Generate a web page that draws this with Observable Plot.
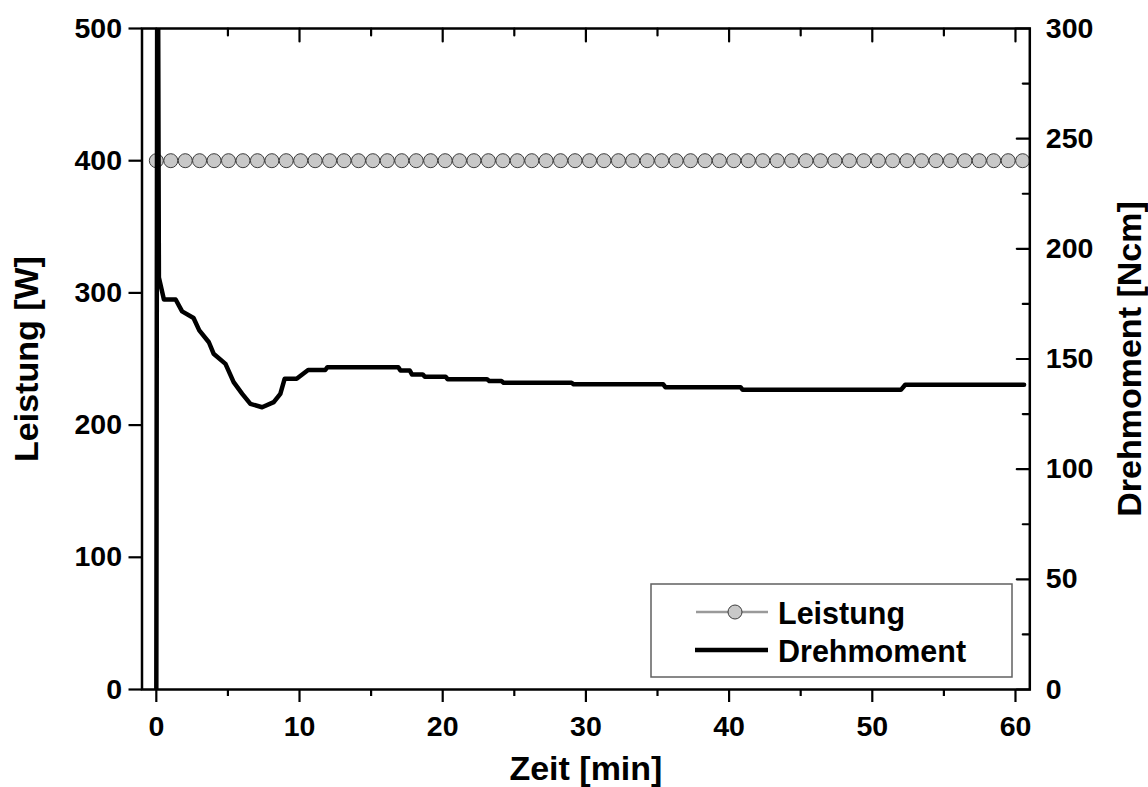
<!DOCTYPE html>
<html>
<head>
<meta charset="utf-8">
<script src="https://cdn.jsdelivr.net/npm/d3@7"></script>
<script src="https://cdn.jsdelivr.net/npm/@observablehq/plot@0.6"></script>
<style>
  html, body { margin: 0; padding: 0; background: #fff; }
  #wrap { position: relative; width: 1148px; height: 787px; }
  #legend { position: absolute; left: 0; top: 0; pointer-events: none; }
  text { font-family: "Liberation Sans", Arial, sans-serif; }
</style>
</head>
<body>
<div id="wrap"></div>
<script>
// Leistung (W), one reading about every minute
const leistungTime = [0, 1.01, 2.02, 3.02, 4.03, 5.04, 6.05, 7.06, 8.07, 9.07,
  10.08, 11.09, 12.10, 13.11, 14.12, 15.12, 16.13, 17.14, 18.15, 19.16,
  20.17, 21.17, 22.18, 23.19, 24.20, 25.21, 26.22, 27.22, 28.23, 29.24,
  30.25, 31.26, 32.27, 33.27, 34.28, 35.29, 36.30, 37.31, 38.32, 39.32,
  40.33, 41.34, 42.35, 43.36, 44.37, 45.37, 46.38, 47.39, 48.40, 49.41,
  50.42, 51.42, 52.43, 53.44, 54.45, 55.46, 56.47, 57.47, 58.48, 59.49, 60.50];
const leistungW = [400, 400, 400, 400, 400, 400, 400, 400, 400, 400,
  400, 400, 400, 400, 400, 400, 400, 400, 400, 400,
  400, 400, 400, 400, 400, 400, 400, 400, 400, 400,
  400, 400, 400, 400, 400, 400, 400, 400, 400, 400,
  400, 400, 400, 400, 400, 400, 400, 400, 400, 400,
  400, 400, 400, 400, 400, 400, 400, 400, 400, 400, 400];

// Drehmoment (Ncm)
const drehTime = [0, 0.08, 0.18, 0.53, 1.35, 1.8, 2.6, 3.0, 3.67, 4.0, 4.83, 5.4,
  6.0, 6.57, 7.39, 8.2, 8.66, 8.96, 9.8, 10.6, 11.8, 11.95, 16.9, 17.05,
  17.7, 17.85, 18.6, 18.75, 20.2, 20.35, 23.1, 23.25, 24.1, 24.25,
  29.0, 29.15, 35.4, 35.55, 40.8, 40.95, 52.0, 52.3, 60.6];
const drehNcm = [0, 420, 187, 177, 177, 171.6, 168.6, 163, 157.6, 152.4, 147.8, 139.5,
  134.2, 129.6, 128.1, 130.4, 134.2, 141, 141, 145, 145, 146.3, 146.3, 144.8,
  144.8, 143, 143, 142, 142, 140.8, 140.8, 140, 140, 139.2,
  139.2, 138.5, 138.5, 137.2, 137.2, 136, 136, 138.3, 138.3];

// Axis ticks
const xTicks = [0, 10, 20, 30, 40, 50, 60];
const xMinorTicks = [5, 15, 25, 35, 45, 55];
const leistungTicks = [0, 100, 200, 300, 400, 500];
const drehTicks = [0, 50, 100, 150, 200, 250, 300];
const drehMinorTicks = [25, 75, 125, 175, 225, 275];

// Both series share one vertical scale: 500 W spans the same height as 300 Ncm
const W_PER_NCM = 500 / 300;

const leistungRows = leistungTime.map((t, i) => ({t, w: leistungW[i]}));
const drehRows = drehTime.map((t, i) => ({t, ncm: drehNcm[i]}));

const FONT = "'Liberation Sans', Arial, sans-serif";
const tickDown = {draw(ctx, l) { ctx.moveTo(0, 0); ctx.lineTo(0, l); }};
const tickLeft = {draw(ctx, l) { ctx.moveTo(0, 0); ctx.lineTo(-l, 0); }};
const axisText = {fontSize: 28.5, fontWeight: "bold", fontFamily: FONT};
const titleText = {fontSize: 34, fontWeight: "bold", fontFamily: FONT, textAnchor: "middle", lineAnchor: "middle"};

const chart = Plot.plot({
  width: 1148,
  height: 787,
  marginLeft: 141.5,
  marginRight: 118.7,
  marginTop: 28,
  marginBottom: 98,
  x: {domain: [-1, 61]},
  y: {domain: [0, 500]},
  style: {fontFamily: FONT, background: "white", color: "black"},
  marks: [
    Plot.line(leistungRows, {x: "t", y: "w", stroke: "#9a9a9a", strokeWidth: 2.5}),
    Plot.dot(leistungRows, {x: "t", y: "w", r: 7, fill: "#c8c8c8", stroke: "#3c3c3c", strokeWidth: 1}),
    Plot.line(drehRows, {x: "t", y: d => d.ncm * W_PER_NCM, stroke: "black", strokeWidth: 4.5, clip: true}),
    Plot.frame({stroke: "black", strokeWidth: 2.5}),
    // left axis: Leistung
    Plot.axisY(leistungTicks, {anchor: "left", tickSize: 13, tickPadding: 7, strokeWidth: 2.2, label: null, ...axisText}),
    // bottom axis: Zeit
    Plot.axisX(xTicks, {anchor: "bottom", tickSize: 13, tickPadding: 13, strokeWidth: 2.2, label: null, ...axisText}),
    Plot.axisX(xMinorTicks, {anchor: "bottom", tickSize: 7, strokeWidth: 2.2, label: null, tickFormat: () => ""}),
    // top ticks, pointing inward
    Plot.vectorX(xTicks, {frameAnchor: "top", length: 13, shape: tickDown, anchor: "start", stroke: "black", strokeWidth: 2.2}),
    Plot.vectorX(xMinorTicks, {frameAnchor: "top", length: 7, shape: tickDown, anchor: "start", stroke: "black", strokeWidth: 2.2}),
    // right axis: Drehmoment, ticks pointing inward
    Plot.vectorY(drehTicks.map(v => v * W_PER_NCM), {frameAnchor: "right", length: 13, shape: tickLeft, anchor: "start", stroke: "black", strokeWidth: 2.2}),
    Plot.vectorY(drehMinorTicks.map(v => v * W_PER_NCM), {frameAnchor: "right", length: 7, shape: tickLeft, anchor: "start", stroke: "black", strokeWidth: 2.2}),
    Plot.axisY(drehTicks.map(v => v * W_PER_NCM), {anchor: "right", tickSize: 0, tickPadding: 16, label: null,
      tickFormat: d => String(Math.round(d / W_PER_NCM)), ...axisText}),
    // axis titles
    Plot.text(["Zeit [min]"], {frameAnchor: "bottom", dy: 80, ...titleText}),
    Plot.text(["Leistung [W]"], {frameAnchor: "left", dx: -115, rotate: -90, ...titleText}),
    Plot.text(["Drehmoment [Ncm]"], {frameAnchor: "right", dx: 100, rotate: -90, ...titleText})
  ]
});

const wrap = document.getElementById("wrap");
wrap.appendChild(chart);

// Legend box inside the plot area, lower right
const ns = "http://www.w3.org/2000/svg";
const legend = document.createElementNS(ns, "svg");
legend.setAttribute("id", "legend");
legend.setAttribute("width", 1148);
legend.setAttribute("height", 787);
legend.innerHTML = `
  <rect x="651" y="584" width="361" height="93" fill="white" stroke="#606060" stroke-width="1.5"/>
  <line x1="696" y1="612" x2="768" y2="612" stroke="#9a9a9a" stroke-width="2.5"/>
  <circle cx="735" cy="612" r="7" fill="#c8c8c8" stroke="#3c3c3c" stroke-width="1"/>
  <text x="778" y="624" font-size="30.5" font-weight="bold" fill="black">Leistung</text>
  <line x1="695" y1="650" x2="768" y2="650" stroke="black" stroke-width="4.5"/>
  <text x="778" y="662" font-size="30.5" font-weight="bold" fill="black">Drehmoment</text>
`;
wrap.appendChild(legend);
</script>
</body>
</html>
